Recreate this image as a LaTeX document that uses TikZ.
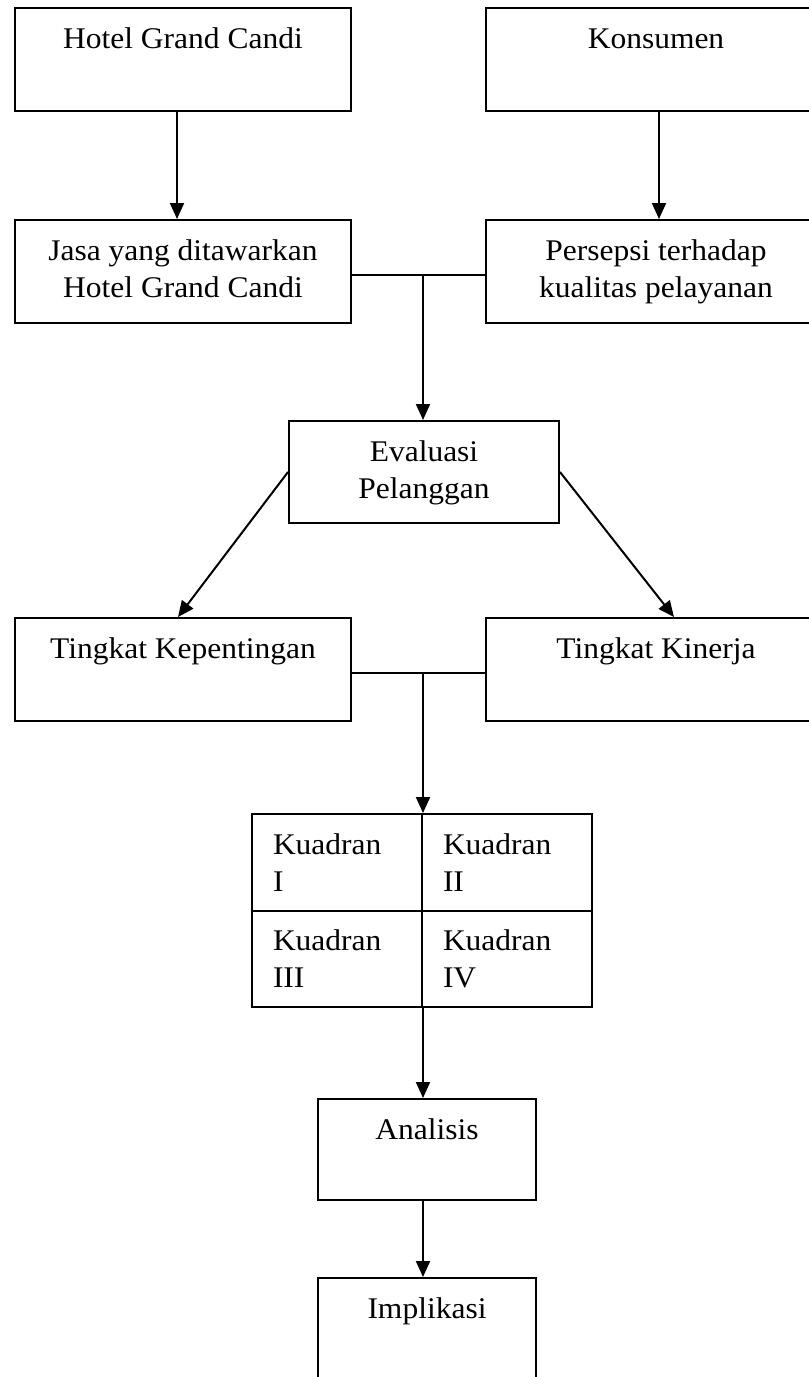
\documentclass[tikz,border=0pt]{standalone}
\usepackage{fontspec}
\setmainfont{Liberation Serif}[FakeStretch=1.05]
\usetikzlibrary{arrows.meta}
\tikzset{kotak/.style 2 args={draw,line width=1pt,inner sep=0pt,anchor=north west,font=\fontsize{15pt}{18.5pt}\selectfont,
    execute at begin node={\begin{minipage}[t][#2][t]{#1}\centering\rule{0pt}{20pt}},
    execute at end node={\end{minipage}}}}
\tikzset{sel/.style={draw,line width=1pt,inner sep=0pt,anchor=north west,font=\fontsize{15pt}{18.5pt}\selectfont,
    execute at begin node={\begin{minipage}[t][48.25pt][t]{85pt}\raggedright\leftskip=10.5pt\rule{0pt}{20pt}},
    execute at end node={\end{minipage}}}}
\tikzset{garis/.style={line width=1pt}}
\tikzset{panah/.style={line width=1pt,-{Triangle[length=8pt,width=7pt]}}}

\begin{document}
\begin{tikzpicture}[x=0.5pt,y=-0.5pt]
      \clip (0,0) rectangle (809,1377);

      \node[kotak={168pt}{51.5pt}] (hgc) at (14,7) {Hotel Grand Candi};
      \node[kotak={170pt}{51.5pt}] (kons) at (485,7) {Konsumen};
      \node[kotak={168pt}{51.5pt}] (jasa) at (14,219) {Jasa yang ditawarkan\\Hotel Grand Candi};
      \node[kotak={170pt}{51.5pt}] (persepsi) at (485,219) {Persepsi terhadap\\kualitas pelayanan};
      \node[kotak={135pt}{51pt}] (eval) at (288,420) {Evaluasi\\Pelanggan};
      \node[kotak={168pt}{51.5pt}] (tk) at (14,617) {Tingkat Kepentingan};
      \node[kotak={170pt}{51.5pt}] (tkin) at (485,617) {Tingkat Kinerja};

      \node[sel] (q1) at (251,813) {Kuadran\\I};
      \node[sel] (q2) at (421,813) {Kuadran\\II};
      \node[sel] (q3) at (251,909.5) {Kuadran\\III};
      \node[sel] (q4) at (421,909.5) {Kuadran\\IV};

      \node[kotak={109pt}{50.5pt}] (analisis) at (317,1098) {Analisis};
      \node[kotak={109pt}{60pt}] (implikasi) at (317,1277) {Implikasi};

      \draw[panah] ([xshift=-3pt]hgc.south) -- ([xshift=-3pt]jasa.north);
      \draw[panah] ([xshift=1.5pt]kons.south) -- ([xshift=1.5pt]persepsi.north);

      \draw[garis] ([yshift=-1.75pt]jasa.east) -- ([yshift=-1.75pt]persepsi.west);
      \draw[panah] ([yshift=-1.75pt]q1.north east |- jasa.east) -- (q1.north east |- eval.north);

      \draw[panah] (eval.west) -- ([xshift=-2.5pt]tk.north);
      \draw[panah] (eval.east) -- ([xshift=9pt]tkin.north);

      \draw[garis] ([yshift=-1.75pt]tk.east) -- ([yshift=-1.75pt]tkin.west);
      \draw[panah] ([yshift=-1.75pt]q1.north east |- tk.east) -- (q1.north east);

      \draw[panah] (q3.south east) -- (q3.south east |- analisis.north);
      \draw[panah] (q3.south east |- analisis.south) -- (q3.south east |- implikasi.north);
\end{tikzpicture}
\end{document}
